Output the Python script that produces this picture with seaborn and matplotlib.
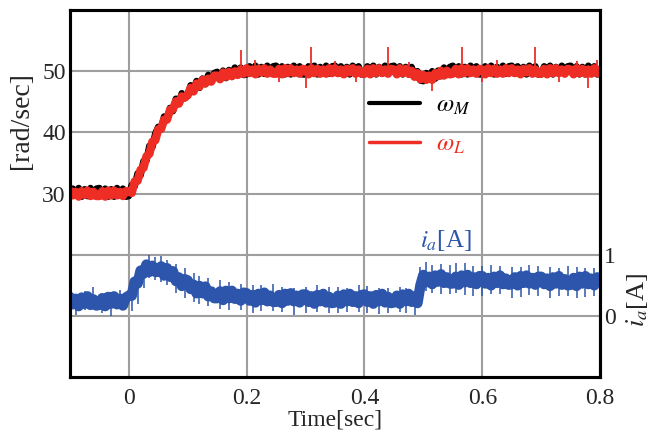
import numpy as np
import pandas as pd
import matplotlib
matplotlib.use('Agg')
import matplotlib.pyplot as plt
from matplotlib.lines import Line2D
import seaborn as sns

# sample clock: 5 ms steps from -0.1 s to 0.8 s (181 samples)
time = np.round(np.arange(181) * 0.005 - 0.1, 3)

# load speed omega_L [rad/sec], core of the trace (one row = 50 ms)
omega_l = [
    30.5, 29.7, 30.3, 29.5, 30.4, 29.8, 30.5, 29.6, 30.3, 29.6,
    29.6, 30.4, 29.5, 30.5, 29.7, 30.5, 29.7, 30.3, 29.6, 30.4,
    30.4, 30.1, 32.0, 32.1, 33.9, 34.2, 36.1, 36.5, 38.5, 38.7,
    40.5, 40.6, 42.1, 42.1, 43.7, 43.8, 45.1, 44.7, 45.9, 45.7,
    46.1, 47.3, 46.7, 48.0, 47.5, 48.6, 48.0, 48.8, 48.3, 49.3,
    49.3, 48.7, 49.8, 49.1, 49.9, 49.2, 50.0, 49.4, 50.3, 49.6,
    50.5, 49.7, 50.3, 49.5, 50.4, 49.8, 50.5, 49.6, 50.3, 49.6,
    49.6, 50.4, 49.5, 50.5, 49.7, 50.5, 49.7, 50.3, 49.6, 50.4,
    50.3, 49.5, 50.5, 49.7, 50.4, 49.6, 50.3, 49.6, 50.5, 49.7,
    50.5, 49.7, 50.3, 49.5, 50.4, 49.8, 50.5, 49.6, 50.3, 49.6,
    49.6, 50.4, 49.5, 50.5, 49.7, 50.5, 49.7, 50.3, 49.6, 50.4,
    50.3, 49.5, 50.5, 49.7, 50.4, 49.6, 50.1, 49.1, 49.7, 48.7,
    49.4, 48.6, 49.3, 48.6, 49.7, 49.2, 50.1, 49.3, 50.1, 49.5,
    49.6, 50.4, 49.5, 50.5, 49.7, 50.5, 49.7, 50.3, 49.6, 50.4,
    50.3, 49.5, 50.5, 49.7, 50.4, 49.6, 50.3, 49.6, 50.5, 49.7,
    50.5, 49.7, 50.3, 49.5, 50.4, 49.8, 50.5, 49.6, 50.3, 49.6,
    49.6, 50.4, 49.5, 50.5, 49.7, 50.5, 49.7, 50.3, 49.6, 50.4,
    50.3, 49.5, 50.5, 49.7, 50.4, 49.6, 50.3, 49.6, 50.5, 49.7,
    50.3,
]

# motor speed omega_M [rad/sec]
omega_m = [
    29.5, 30.8, 29.7, 30.9, 29.5, 30.7, 29.6, 30.9, 29.6, 30.8,
    30.9, 29.6, 30.8, 29.5, 30.7, 29.5, 30.9, 29.7, 30.8, 29.5,
    29.6, 31.4, 31.2, 33.3, 33.0, 35.3, 35.4, 37.8, 37.6, 39.8,
    40.9, 40.5, 42.6, 42.1, 44.0, 43.5, 45.5, 44.8, 46.4, 45.6,
    46.0, 47.7, 46.9, 48.4, 47.3, 48.8, 47.9, 49.4, 48.3, 49.7,
    49.9, 48.8, 50.1, 48.9, 50.2, 49.1, 50.6, 49.4, 50.6, 49.4,
    49.5, 50.8, 49.7, 50.9, 49.5, 50.7, 49.6, 50.9, 49.6, 50.8,
    50.9, 49.6, 50.8, 49.5, 50.7, 49.5, 50.9, 49.7, 50.8, 49.5,
    49.5, 50.8, 49.7, 50.9, 49.5, 50.7, 49.6, 50.9, 49.6, 50.8,
    50.9, 49.6, 50.8, 49.5, 50.7, 49.5, 50.9, 49.7, 50.8, 49.5,
    49.5, 50.8, 49.7, 50.9, 49.5, 50.7, 49.6, 50.9, 49.6, 50.8,
    50.9, 49.6, 50.8, 49.5, 50.7, 49.5, 50.7, 49.2, 50.0, 48.5,
    48.4, 49.7, 48.7, 50.0, 48.8, 50.1, 49.2, 50.6, 49.4, 50.7,
    50.9, 49.6, 50.8, 49.5, 50.7, 49.5, 50.9, 49.7, 50.8, 49.5,
    49.5, 50.8, 49.7, 50.9, 49.5, 50.7, 49.6, 50.9, 49.6, 50.8,
    50.9, 49.6, 50.8, 49.5, 50.7, 49.5, 50.9, 49.7, 50.8, 49.5,
    49.5, 50.8, 49.7, 50.9, 49.5, 50.7, 49.6, 50.9, 49.6, 50.8,
    50.9, 49.6, 50.8, 49.5, 50.7, 49.5, 50.9, 49.7, 50.8, 49.5,
    49.6,
]

# short spikes on the omega_L trace: time, start and tip [rad/sec]
wl_spike_t = [0.19, 0.215, 0.255, 0.30, 0.31, 0.35, 0.385, 0.44, 0.475,
              0.515, 0.565, 0.60, 0.625, 0.69, 0.73, 0.76, 0.78, 0.795]
wl_spike_from = [49.8, 50.0, 50.0, 50.0, 50.0, 50.0, 50.0, 50.0, 50.0,
                 49.1, 50.0, 50.0, 50.0, 50.0, 50.0, 50.0, 50.0, 50.0]
wl_spike_to = [53.5, 51.8, 48.2, 47.2, 54.0, 51.7, 48.3, 54.0, 51.6,
               46.8, 54.0, 48.2, 51.8, 54.0, 48.3, 51.7, 47.3, 51.8]

# armature current i_a [A], core of the trace
i_a = [
    0.31, 0.19, 0.28, 0.16, 0.30, 0.20, 0.32, 0.18, 0.27, 0.17,
    0.18, 0.29, 0.16, 0.31, 0.20, 0.32, 0.19, 0.28, 0.17, 0.30,
    0.33, 0.33, 0.56, 0.53, 0.74, 0.69, 0.84, 0.72, 0.82, 0.72,
    0.72, 0.81, 0.66, 0.78, 0.64, 0.73, 0.57, 0.63, 0.49, 0.60,
    0.58, 0.44, 0.51, 0.37, 0.49, 0.37, 0.48, 0.32, 0.40, 0.29,
    0.29, 0.40, 0.26, 0.41, 0.29, 0.41, 0.28, 0.36, 0.25, 0.38,
    0.37, 0.25, 0.34, 0.22, 0.36, 0.26, 0.38, 0.24, 0.33, 0.23,
    0.23, 0.34, 0.21, 0.36, 0.25, 0.37, 0.24, 0.33, 0.22, 0.35,
    0.35, 0.23, 0.32, 0.20, 0.34, 0.24, 0.36, 0.22, 0.31, 0.21,
    0.22, 0.33, 0.20, 0.35, 0.24, 0.36, 0.23, 0.32, 0.21, 0.34,
    0.35, 0.23, 0.32, 0.20, 0.34, 0.24, 0.36, 0.22, 0.31, 0.21,
    0.22, 0.33, 0.20, 0.35, 0.24, 0.36, 0.23, 0.32, 0.21, 0.50,
    0.67, 0.55, 0.64, 0.52, 0.66, 0.56, 0.68, 0.54, 0.63, 0.53,
    0.53, 0.64, 0.51, 0.66, 0.55, 0.67, 0.54, 0.63, 0.52, 0.65,
    0.65, 0.53, 0.62, 0.50, 0.64, 0.54, 0.66, 0.52, 0.61, 0.51,
    0.52, 0.63, 0.50, 0.65, 0.54, 0.66, 0.53, 0.62, 0.51, 0.64,
    0.64, 0.52, 0.61, 0.49, 0.63, 0.53, 0.65, 0.51, 0.60, 0.50,
    0.51, 0.62, 0.49, 0.64, 0.53, 0.65, 0.52, 0.61, 0.50, 0.63,
    0.56,
]

# short spikes on the i_a trace: time, low and high end [A]
ia_spike_t = [-0.09, -0.075, -0.06, -0.045, -0.03, -0.015, 0.005, 0.015, 0.025, 0.035,
              0.045, 0.055, 0.065, 0.08, 0.095, 0.11, 0.12, 0.135, 0.155, 0.17,
              0.19, 0.21, 0.225, 0.245, 0.26, 0.28, 0.30, 0.32, 0.34, 0.355,
              0.37, 0.39, 0.405, 0.425, 0.44, 0.46, 0.47, 0.485, 0.495, 0.505,
              0.515, 0.53, 0.545, 0.555, 0.57, 0.585, 0.60, 0.615, 0.63, 0.65,
              0.665, 0.68, 0.695, 0.715, 0.73, 0.745, 0.76, 0.775, 0.79]
ia_spike_lo = [0.02, 0.10, 0.18, 0.04, 0.00, 0.12, 0.08, 0.20, 0.45, 0.62,
               0.58, 0.55, 0.50, 0.38, 0.30, 0.22, 0.20, 0.16, 0.12, 0.10,
               0.10, 0.05, 0.08, 0.08, 0.06, 0.02, 0.05, 0.06, 0.04, 0.04,
               0.06, 0.06, 0.05, 0.03, 0.04, 0.06, 0.05, 0.02, 0.30, 0.40,
               0.38, 0.35, 0.36, 0.38, 0.34, 0.32, 0.33, 0.36, 0.35, 0.30,
               0.31, 0.34, 0.33, 0.30, 0.32, 0.33, 0.30, 0.31, 0.32]
ia_spike_hi = [0.30, 0.40, 0.48, 0.36, 0.28, 0.42, 0.40, 0.60, 0.88, 1.00,
               0.97, 0.98, 0.92, 0.85, 0.78, 0.70, 0.66, 0.62, 0.58, 0.55,
               0.52, 0.50, 0.50, 0.52, 0.48, 0.45, 0.47, 0.50, 0.48, 0.47,
               0.46, 0.50, 0.49, 0.46, 0.46, 0.48, 0.45, 0.40, 0.80, 0.88,
               0.84, 0.85, 0.83, 0.86, 0.86, 0.82, 0.81, 0.84, 0.82, 0.80,
               0.80, 0.83, 0.82, 0.80, 0.79, 0.82, 0.80, 0.79, 0.78]

df = pd.DataFrame({'t': time, 'wm': omega_m, 'wl': omega_l, 'ia': i_a})

sns.set_style('white')
plt.rcParams['font.family'] = ['Liberation Serif', 'DejaVu Serif']
plt.rcParams['mathtext.fontset'] = 'stix'

RED = '#ee2e24'
BLUE = '#2c55ab'
GRID = '#9e9e9e'

fig = plt.figure(figsize=(6.53, 4.41), dpi=100)
ax = fig.add_axes([0.107, 0.145, 0.812, 0.832])
ax2 = ax.twinx()

# speeds on the left scale (wide strokes make the noisy band)
sns.lineplot(data=df, x='t', y='wm', ax=ax, color='black', lw=4.8, estimator=None)
sns.lineplot(data=df, x='t', y='wl', ax=ax, color=RED, lw=6.0, estimator=None)
ax.vlines(wl_spike_t, wl_spike_from, wl_spike_to, color=RED, lw=1.3)

# current on the right scale
sns.lineplot(data=df, x='t', y='ia', ax=ax2, color=BLUE, lw=7.5, estimator=None)
ax2.vlines(ia_spike_t, ia_spike_lo, ia_spike_hi, color=BLUE, lw=1.1)

ax.set_xlim(-0.1, 0.8)
ax.set_ylim(0, 60)
ax2.set_ylim(-1, 5)

ax.set_xticks([0, 0.2, 0.4, 0.6, 0.8])
ax.set_xticklabels(['0', '0.2', '0.4', '0.6', '0.8'])
ax.set_yticks([10, 20, 30, 40, 50])
ax.set_yticklabels(['', '', '30', '40', '50'])
ax2.set_yticks([0, 1])
ax2.set_yticklabels(['0', '1'])

ax.grid(True, color=GRID, lw=1.5)
ax.set_axisbelow(True)
ax.tick_params(axis='y', length=0, labelsize=17, pad=3)
ax.tick_params(axis='x', length=0, labelsize=17, pad=8)
ax2.tick_params(length=0, labelsize=17, pad=3)

for a in (ax, ax2):
    for s in a.spines.values():
        s.set_visible(True)
        s.set_color('black')
        s.set_linewidth(2.2)

ax.set_xlabel('Time[sec]', fontsize=17, labelpad=0)
ax.set_ylabel('[rad/sec]', fontsize=20)
ax.yaxis.set_label_coords(-0.068, 0.70)
ax2.set_ylabel('$i_a$[A]', fontsize=19, rotation=90)
ax2.yaxis.set_label_coords(1.045, 0.21)

ax2.text(0.495, 1.12, '$i_a$[A]', color=BLUE, fontsize=18)

handles = [Line2D([], [], color='black', lw=3), Line2D([], [], color=RED, lw=2.5)]
leg = ax.legend(handles, [r'$\omega_M$', r'$\omega_L$'], loc='upper left',
                bbox_to_anchor=(0.530, 0.838), bbox_transform=fig.transFigure,
                frameon=False, fontsize=18, handlelength=2.05, labelspacing=0.65,
                handletextpad=0.65)
for txt, c in zip(leg.get_texts(), ['black', RED]):
    txt.set_color(c)

fig.savefig('out.png', dpi=100)
